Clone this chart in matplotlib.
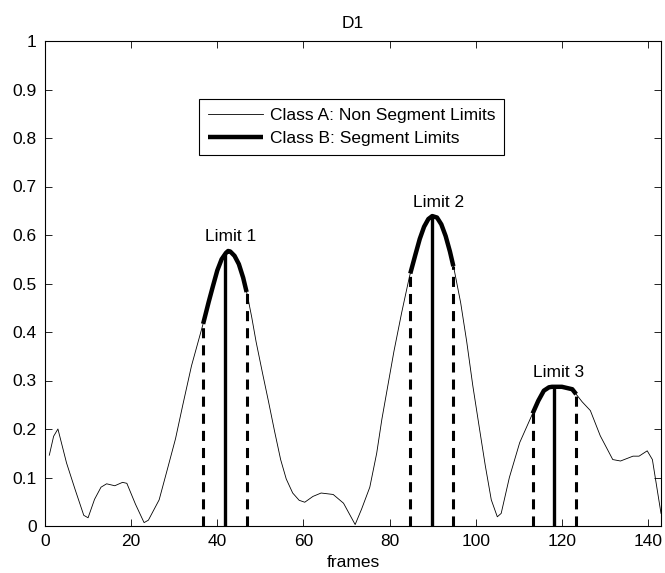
import matplotlib
matplotlib.use("Agg")
import matplotlib.pyplot as plt
import numpy as np

plt.rcParams['font.family'] = ['Liberation Sans', 'DejaVu Sans']

# Curve (frames vs value)
frames = [1, 2, 3, 5, 7, 9, 10, 11.5, 13, 14.3, 16.2, 18, 19, 21, 23, 24,
          26.5, 28.5, 30.3, 32, 34, 36.8, 38, 39, 40, 41, 42, 42.5, 43, 44, 45, 46, 47,
          48, 49, 50.5, 51.9, 53.3, 54.7, 56, 57.5, 59, 60.3, 62.2, 64.1, 66.9, 69.3, 72,
          73.5, 75.4, 77, 78.2, 81, 82.8, 84.6, 86, 87, 88, 89, 89.9, 91, 92, 93, 94, 95,
          96.5, 97.9, 99.3, 100.75, 102.2, 103.6, 105, 105.9, 107.8, 110.2, 113, 114.5, 115.8, 117, 117.7, 120, 122.4,
          124.7, 126.6, 128.9, 131.8, 133.6, 136.5, 137.9, 139.8, 141, 143]
values = [0.146, 0.185, 0.2, 0.13, 0.075, 0.022, 0.017, 0.055, 0.08, 0.087, 0.083, 0.09, 0.088, 0.045, 0.007, 0.012,
          0.054, 0.12, 0.18, 0.25, 0.33, 0.42, 0.462, 0.495, 0.527, 0.55, 0.563, 0.567, 0.566, 0.557, 0.54, 0.512, 0.475,
          0.43, 0.38, 0.315, 0.256, 0.195, 0.137, 0.097, 0.068, 0.053, 0.049, 0.061, 0.068, 0.065, 0.047, 0.003,
          0.035, 0.08, 0.15, 0.22, 0.36, 0.44, 0.514, 0.56, 0.592, 0.617, 0.633, 0.639, 0.636, 0.622, 0.598, 0.566, 0.528,
          0.46, 0.38, 0.29, 0.207, 0.125, 0.054, 0.019, 0.026, 0.1, 0.172, 0.228, 0.258, 0.279, 0.286, 0.287, 0.287, 0.282,
          0.256, 0.238, 0.186, 0.137, 0.134, 0.144, 0.144, 0.155, 0.137, 0.026]

limit_centers = [41.7, 89.8, 118.1]
limit_left = [36.7, 84.8, 113.2]
limit_right = [46.8, 94.8, 123.3]
limit_labels = ['Limit 1', 'Limit 2', 'Limit 3']
label_pos = [(43.1, 0.582), (91.4, 0.652), (119.3, 0.301)]

legend_labels = ['Class A: Non Segment Limits', 'Class B: Segment Limits']
title = 'D1'
xlabel = 'frames'
xticks = [0, 20, 40, 60, 80, 100, 120, 140]
yticks = [0, 0.1, 0.2, 0.3, 0.4, 0.5, 0.6, 0.7, 0.8, 0.9, 1.0]
ytick_labels = ['0', '0.1', '0.2', '0.3', '0.4', '0.5', '0.6', '0.7', '0.8', '0.9', '1']

fx = np.array(frames, dtype=float)
fy = np.array(values, dtype=float)

FS = 12.5

fig = plt.figure(figsize=(6.65, 5.73), dpi=100)
ax = fig.add_axes([45/665, 1 - 526/573, 616/665, 485/573])

thin, = ax.plot(fx, fy, color='black', lw=0.6, label=legend_labels[0])

thick = None
for lo, hi, c in zip(limit_left, limit_right, limit_centers):
    mask = (fx > lo) & (fx < hi)
    sx = np.concatenate([[lo], fx[mask], [hi]])
    sy = np.concatenate([[np.interp(lo, fx, fy)], fy[mask], [np.interp(hi, fx, fy)]])
    h, = ax.plot(sx, sy, color='black', lw=3.2, solid_capstyle='butt')
    thick = h
    ax.plot([c, c], [0, np.interp(c, fx, fy)], color='black', lw=2.4)
    for d in (lo, hi):
        ax.plot([d, d], [0, np.interp(d, fx, fy)], color='black', lw=2.2,
                linestyle=(0, (3.3, 2.3)), dash_capstyle='butt')

for lab, (tx, ty) in zip(limit_labels, label_pos):
    ax.text(tx, ty, lab, ha='center', va='bottom', fontsize=FS)

thick.set_label(legend_labels[1])
leg = ax.legend(handles=[thin, thick], loc='upper left', bbox_to_anchor=(0.25, 0.88),
                fontsize=FS, frameon=True, fancybox=False, framealpha=1, edgecolor='black',
                handlelength=3.2, handletextpad=0.4, borderpad=0.5, labelspacing=0.45,
                borderaxespad=0)
leg.get_frame().set_linewidth(0.8)

ax.set_xlim(0, 143)
ax.set_ylim(0, 1)
ax.set_xticks(xticks)
ax.set_yticks(yticks)
ax.set_yticklabels(ytick_labels)
ax.tick_params(direction='in', top=True, right=True, length=5, width=0.6, labelsize=FS, pad=6)
for s in ax.spines.values():
    s.set_linewidth(0.8)
ax.set_title(title, fontsize=FS, pad=9)
ax.set_xlabel(xlabel, fontsize=FS, labelpad=4)

fig.savefig('out.png', dpi=100)
